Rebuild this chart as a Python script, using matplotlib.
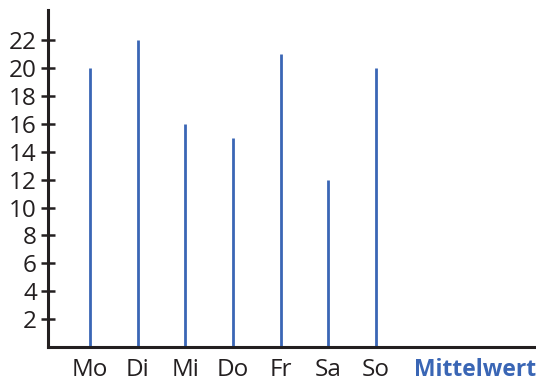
import matplotlib
matplotlib.use("Agg")
import matplotlib.pyplot as plt

plt.rcParams['font.family'] = ['Open Sans', 'DejaVu Sans']

days = ["Mo", "Di", "Mi", "Do", "Fr", "Sa", "So"]
values = [20, 22, 16, 15, 21, 12, 20]
y_ticks = [2, 4, 6, 8, 10, 12, 14, 16, 18, 20, 22]
mean_label = "Mittelwert"

blue = "#3a66b5"
dark = "#231f20"

fig = plt.figure(figsize=(5.36, 3.8), dpi=100)
ax = fig.add_axes([48 / 536, 33 / 380, 1 - 48 / 536, 337 / 380])

x = list(range(len(days)))
ax.vlines(x, 0, values, color=blue, linewidth=2.0)

ax.set_xlim(-0.88, 9.35)
ax.set_ylim(0, 24.16)

ax.set_xticks(x + [8.07])
ax.set_xticklabels(days + [mean_label], fontsize=17.5, color=dark)
lbl = ax.get_xticklabels()[-1]
lbl.set_color(blue)
lbl.set_fontweight("bold")
lbl.set_fontsize(16.5)
ax.tick_params(axis="x", length=0, pad=8)

ax.set_yticks(y_ticks)
ax.set_yticklabels([str(v) for v in y_ticks], fontsize=17.5, color=dark)
ax.tick_params(axis="y", direction="inout", length=10, width=1.8, color=dark, pad=3)

for side in ("top", "right"):
    ax.spines[side].set_visible(False)
for side in ("left", "bottom"):
    ax.spines[side].set_linewidth(2.2)
    ax.spines[side].set_color(dark)

fig.savefig("out.png", dpi=100)
